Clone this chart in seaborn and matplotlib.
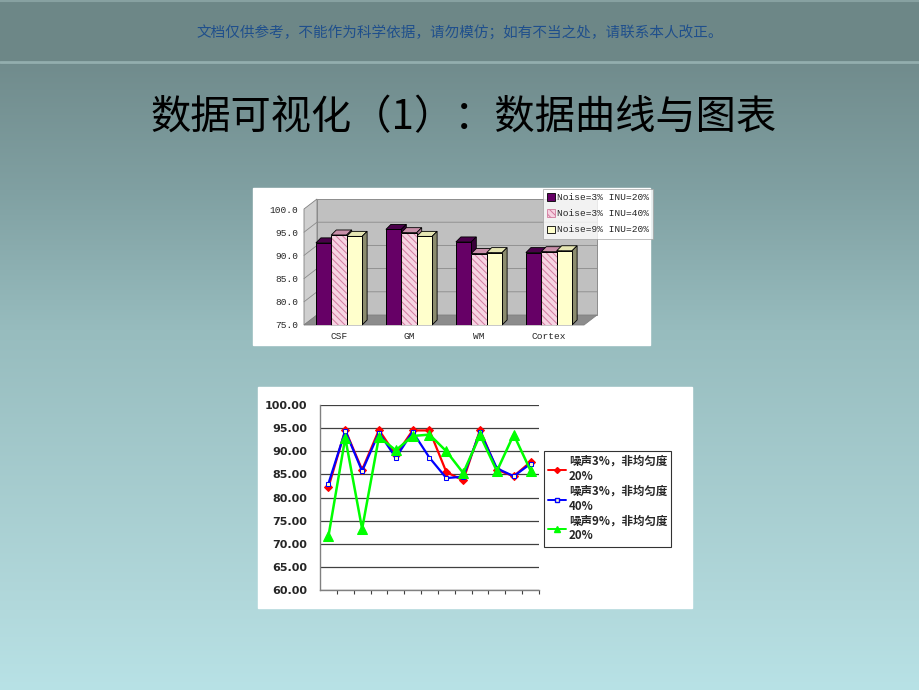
import numpy as np
import pandas as pd
import matplotlib
matplotlib.use("Agg")
import matplotlib.pyplot as plt
from matplotlib.patches import Rectangle, Polygon, Patch
from matplotlib.lines import Line2D
from matplotlib.font_manager import FontProperties
import seaborn as sns

# ---- data ----
bar_groups = ["CSF", "GM", "WM", "Cortex"]
bar_series = ["Noise=3% INU=20%", "Noise=3% INU=40%", "Noise=9% INU=20%"]
bar_n3_i20 = [92.7, 95.6, 92.9, 90.6]
bar_n3_i40 = [94.4, 94.9, 90.4, 90.8]
bar_n9_i20 = [94.1, 94.1, 90.6, 91.0]
bar_ticks = [75.0, 80.0, 85.0, 90.0, 95.0, 100.0]

line_labels = ["噪声3%，非均匀度\n20%", "噪声3%，非均匀度\n40%", "噪声9%，非均匀度\n20%"]
line_red = [82.2, 94.6, 86.0, 94.6, 89.2, 94.5, 94.5, 85.5, 83.7, 94.6, 86.0, 84.6, 87.7]
line_blue = [83.0, 94.4, 85.7, 94.0, 88.6, 94.2, 88.6, 84.2, 84.5, 94.2, 86.3, 84.6, 87.3]
line_green = [71.6, 92.9, 73.2, 93.1, 90.2, 93.3, 93.6, 90.0, 85.3, 93.5, 85.7, 93.6, 85.8]
line_ticks = [60, 65, 70, 75, 80, 85, 90, 95, 100]

header_text = "文档仅供参考，不能作为科学依据，请勿模仿；如有不当之处，请联系本人改正。"
title_text = "数据可视化（1）：数据曲线与图表"

sns.set_theme(style="white")
plt.rcParams["font.family"] = ["Noto Sans CJK SC", "DejaVu Sans"]
plt.rcParams["hatch.linewidth"] = 0.7

W, H = 920, 690
fig = plt.figure(figsize=(W / 100, H / 100), dpi=100)


def px_axes(x0, y0, x1, y1, **kw):
    return fig.add_axes([x0 / W, 1 - y1 / H, (x1 - x0) / W, (y1 - y0) / H], **kw)


# ---- slide background ----
bg = px_axes(0, 0, W, H)
stops_y = [0, 65, 190, 330, 610, 690]
stops_c = np.array([[0x6c, 0x87, 0x88], [0x71, 0x8c, 0x8d], [0x80, 0xa0, 0xa2],
                    [0x97, 0xbc, 0xbe], [0xb2, 0xd9, 0xdc], [0xb8, 0xe2, 0xe6]]) / 255
yy = np.arange(H)
grad = np.stack([np.interp(yy, stops_y, stops_c[:, k]) for k in range(3)], axis=1)
bg.imshow(grad[:, None, :], aspect="auto", extent=[0, W, H, 0])
bg.add_patch(Rectangle((0, 0), W, 62, color="#6d8787"))
bg.plot([0, W], [62, 62], color="#93aeae", lw=2)
bg.plot([0, W], [1, 1], color="#87a1a1", lw=1.5)
bg.set_xlim(0, W)
bg.set_ylim(H, 0)
bg.axis("off")
bg.text(460, 32, header_text, color="#1f4f8c", fontsize=10.5, ha="center", va="center")
bg.text(464, 118, title_text, color="black", fontsize=29, ha="center", va="center")

# white panels
bg.add_patch(Rectangle((253, 188), 397, 157, color="white"))
bg.add_patch(Rectangle((258, 387), 434, 221, color="white"))

# ---- 3D-looking bar chart ----
ax1 = px_axes(304, 209, 584, 325)
ax1.set_xlim(-0.5, 3.5)
ax1.set_ylim(75, 100)
ax1.set_facecolor("none")
for s in ax1.spines.values():
    s.set_visible(False)

px_x = 4 / 280  # data units per pixel
px_y = 25 / 116
wdx, wdy = 13 * px_x, 10 * px_y
# side wall, back wall, floor
ax1.add_patch(Polygon([(-0.5, 75), (-0.5 + wdx, 75 + wdy), (-0.5 + wdx, 100 + wdy), (-0.5, 100)],
                      closed=True, fc="#cfcfcf", ec="#808080", lw=0.6, clip_on=False, zorder=0))
ax1.add_patch(Polygon([(-0.5 + wdx, 75 + wdy), (3.5 + wdx, 75 + wdy), (3.5 + wdx, 100 + wdy), (-0.5 + wdx, 100 + wdy)],
                      closed=True, fc="#c0c0c0", ec="#808080", lw=0.6, clip_on=False, zorder=0))
ax1.add_patch(Polygon([(-0.5, 75), (3.5, 75), (3.5 + wdx, 75 + wdy), (-0.5 + wdx, 75 + wdy)],
                      closed=True, fc="#8c8c8c", ec="#808080", lw=0.6, clip_on=False, zorder=0))
for t in bar_ticks[1:-1]:
    ax1.plot([-0.5, -0.5 + wdx, 3.5 + wdx], [t, t + wdy, t + wdy], color="#8a8a8a", lw=0.6,
             clip_on=False, zorder=0.5)

df_bar = pd.DataFrame({
    "group": bar_groups * 3,
    "series": [bar_series[0]] * 4 + [bar_series[1]] * 4 + [bar_series[2]] * 4,
    "value": bar_n3_i20 + bar_n3_i40 + bar_n9_i20,
})
face = ["#660066", "#f6d3e2", "#ffffcc"]
tops = ["#4a004a", "#c98fa9", "#e6e6b3"]
sides = ["#3a003a", "#a8788e", "#8c8c6e"]
sns.barplot(data=df_bar, x="group", y="value", hue="series", hue_order=bar_series,
            palette=face, width=0.66, ax=ax1, legend=False, saturation=1, zorder=2)
ax1.set_ylim(75, 100)
ax1.set_xlim(-0.5, 3.5)

bdx, bdy = 5 * px_x, 5 * px_y
for k, cont in enumerate(ax1.containers):
    for p in cont:
        x0, w, h = p.get_x(), p.get_width(), p.get_height()
        p.set_zorder(3)
        if k == 1:
            p.set_hatch("\\\\\\\\\\")
            p.set_edgecolor("#d27a9e")
            p.set_linewidth(0)
            ax1.add_patch(Rectangle((x0, 75), w, h - 75, fill=False, ec="black", lw=0.7, zorder=3.5))
        else:
            p.set_edgecolor("black")
            p.set_linewidth(0.7)
        ax1.add_patch(Polygon([(x0, h), (x0 + w, h), (x0 + w + bdx, h + bdy), (x0 + bdx, h + bdy)],
                              closed=True, fc=tops[k], ec="black", lw=0.6, clip_on=False, zorder=2.5))
        ax1.add_patch(Polygon([(x0 + w, 75), (x0 + w + bdx, 75 + bdy), (x0 + w + bdx, h + bdy), (x0 + w, h)],
                              closed=True, fc=sides[k], ec="black", lw=0.6, clip_on=False, zorder=2.5))

mono = FontProperties(family="Liberation Mono", size=6.8)
ax1.set_yticks(bar_ticks)
ax1.set_yticklabels([f"{t:.1f}" for t in bar_ticks], fontproperties=mono)
ax1.set_xticks(range(4))
ax1.set_xticklabels(bar_groups, fontproperties=mono)
ax1.tick_params(axis="y", length=0, pad=4)
ax1.tick_params(axis="x", length=0, pad=5)
ax1.set_xlabel("")
ax1.set_ylabel("")
ax1.grid(False)

bar_handles = [Patch(fc=face[0], ec="black", lw=0.6),
               Patch(fc=face[1], ec="#d27a9e", lw=0.6, hatch="\\\\\\\\\\"),
               Patch(fc=face[2], ec="black", lw=0.6)]
leg1 = ax1.legend(bar_handles, bar_series, prop=mono, loc="upper left",
                  bbox_to_anchor=(543 / W, 1 - 189 / H), bbox_transform=fig.transFigure,
                  frameon=True, fancybox=False, handlelength=0.8, handleheight=0.8,
                  handletextpad=0.2, borderpad=0.45, labelspacing=0.75, borderaxespad=0)
leg1.get_frame().set_edgecolor("#a0a0a0")
leg1.get_frame().set_linewidth(0.6)

# ---- line chart ----
ax2 = px_axes(320, 405, 539, 590)
xs = list(range(len(line_red)))
sns.lineplot(x=xs, y=line_red, color="#ff0000", marker="D", markersize=4.5, lw=1.6,
             markeredgecolor="#ff0000", ax=ax2)
sns.lineplot(x=xs, y=line_blue, color="#0000ff", marker="s", markersize=3.5, lw=1.6,
             markerfacecolor="#ffffcc", markeredgecolor="#0000ff", ax=ax2)
sns.lineplot(x=xs, y=line_green, color="#00ff00", marker="^", markersize=7, lw=1.8,
             markeredgecolor="#00ff00", ax=ax2)
ax2.set_xlim(-0.5, len(xs) - 0.5)
ax2.set_ylim(60, 100)
ax2.set_yticks(line_ticks)
ax2.set_yticklabels([f"{t:.2f}" for t in line_ticks], fontsize=8, fontweight="bold",
                    family="DejaVu Sans")
ax2.set_xticks(np.arange(0.5, len(xs), 1.0))
ax2.set_xticklabels([])
ax2.tick_params(axis="x", direction="out", length=3, width=0.8, color="#404040", bottom=True)
ax2.tick_params(axis="y", length=0, pad=9)
ax2.yaxis.grid(True, color="#404040", lw=0.9)
ax2.xaxis.grid(False)
ax2.set_axisbelow(True)
for name, s in ax2.spines.items():
    s.set_visible(name in ("left", "bottom"))
    s.set_color("#808080")
    s.set_linewidth(1.0)

cjk_bold = FontProperties(family=["Noto Sans CJK SC", "DejaVu Sans"], weight="bold", size=8.3)
line_handles = [Line2D([], [], color="#ff0000", marker="D", markersize=3, lw=1.4),
                Line2D([], [], color="#0000ff", marker="s", markersize=3, lw=1.4,
                       markerfacecolor="#ffffcc"),
                Line2D([], [], color="#00ff00", marker="^", markersize=5, lw=1.4)]
leg2 = ax2.legend(line_handles, line_labels, prop=cjk_bold, loc="upper left",
                  bbox_to_anchor=(544 / W, 1 - 451 / H), bbox_transform=fig.transFigure,
                  frameon=True, fancybox=False, handlelength=1.6, handletextpad=0.2,
                  borderpad=0.35, labelspacing=0.15, borderaxespad=0)
leg2.get_frame().set_edgecolor("black")
leg2.get_frame().set_linewidth(0.8)

fig.savefig("out.png", dpi=100)
plt.close(fig)
